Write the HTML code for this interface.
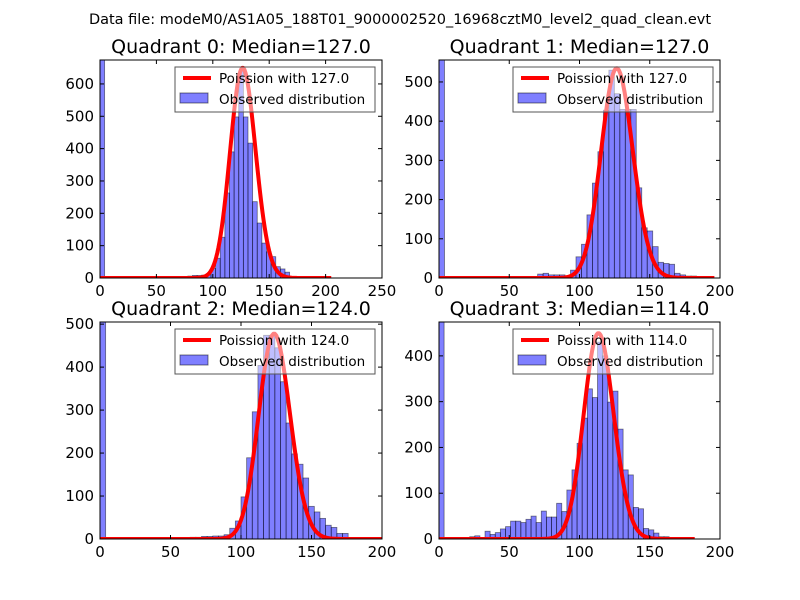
<!DOCTYPE html>
<html><head><meta charset="utf-8"><style>
body{margin:0;background:#fff}
svg{display:block;font-family:"DejaVu Sans","Liberation Sans",sans-serif}
</style></head><body>
<svg id="fig" width="800" height="600" viewBox="0 0 800 600">
<rect width="800" height="600" fill="#fff"/>
<text x="400" y="24" text-anchor="middle" font-size="14.5">Data file: modeM0/AS1A05_188T01_9000002520_16968cztM0_level2_quad_clean.evt</text>
</svg>
<script>
const titles=["Quadrant 0: Median=127.0","Quadrant 1: Median=127.0","Quadrant 2: Median=124.0","Quadrant 3: Median=114.0"];
const lambdas=[127,127,124,114];
const amplitudes=[18360,15110,13340,12040];
const binWidths=[4.1,3.9,4.0,3.64];
const xMaxes=[250,200,200,200];
const yMaxes=[674,556,505,474];
const curveEnds=[205,196,200,182];
const xTickVals=[[0,50,100,150,200,250],[0,50,100,150,200],[0,50,100,150,200],[0,50,100,150,200]];
const yTickVals=[[0,100,200,300,400,500,600],[0,100,200,300,400,500],[0,100,200,300,400,500],[0,100,200,300,400]];
const counts0=[2000,0,0,0,0,0,0,0,0,0,0,0,0,0,0,0,2,3,4,6,8,8,9,10,30,61,126,263,390,498,640,498,417,236,170,108,81,66,35,28,18,5,0,0,0,0,0,0,0,0];
const counts1=[2000,0,0,0,0,0,0,0,0,0,0,0,0,0,0,0,0,0,10,12,8,8,8,3,20,54,86,161,242,322,428,530,470,430,430,430,230,128,120,80,40,37,35,12,8,5,5,4,0,0];
const counts2=[2000,0,0,0,0,0,0,0,0,0,0,0,0,0,0,0,4,4,6,6,7,7,10,25,42,98,189,296,404,474,474,445,366,270,198,174,142,76,63,48,32,27,13,13,2,0,0,0,0,0];
const counts3=[2000,0,0,0,0,0,5,7,0,17,10,14,22,27,39,39,36,43,50,36,61,48,48,78,60,107,151,209,264,328,309,430,400,299,323,240,151,140,69,66,23,20,13,5,5,0,0,0,0,0];
const allCounts=[counts0,counts1,counts2,counts3];
const boxes=[{l:100,t:60,r:382,b:278},{l:439,t:60,r:720,b:278},{l:100,t:322,r:382,b:539},{l:439,t:322,r:720,b:539}];
const NS="http://www.w3.org/2000/svg";
const svg=document.getElementById("fig");
function mk(tag,attrs,parent){const e=document.createElementNS(NS,tag);for(const k in attrs)e.setAttribute(k,attrs[k]);(parent||svg).appendChild(e);return e;}
function lgamma(z){
  if(z<7){let s=0;while(z<7){s-=Math.log(z);z+=1;}return s+lgamma(z);}
  return (z-0.5)*Math.log(z)-z+0.5*Math.log(2*Math.PI)+1/(12*z)-1/(360*z*z*z);}
function pois(k,lam){return Math.exp(k*Math.log(lam)-lam-lgamma(k+1));}
for(let p=0;p<4;p++){
  const B=boxes[p];
  const xs=v=>B.l+(v/xMaxes[p])*(B.r-B.l);
  const ys=v=>B.b-(v/yMaxes[p])*(B.b-B.t);
  const g=mk("g",{});
  
  
  const cid="clip"+p;
  const cp=mk("clipPath",{id:cid},g);mk("rect",{x:B.l,y:B.t,width:B.r-B.l,height:B.b-B.t},cp);
  const plot=mk("g",{"clip-path":"url(#"+cid+")"},g);
  const counts=allCounts[p];
  counts.forEach((c,i)=>{
    if(c<=0)return;
    const x0=xs(i*binWidths[p]),x1=xs((i+1)*binWidths[p]);
    const r=mk("rect",{x:x0,y:ys(c),width:x1-x0,height:ys(0)-ys(c),fill:"rgba(0,0,255,0.5)",stroke:"rgba(0,0,0,0.5)","stroke-width":"0.8"},plot);
    
    
  });
  let d="";
  for(let k=0;k<=curveEnds[p];k++){d+=(k?"L":"M")+xs(k).toFixed(2)+","+ys(amplitudes[p]*pois(k,lambdas[p])).toFixed(2);}
  const ln=mk("path",{d:d,fill:"none",stroke:"#ff0000","stroke-width":"4","stroke-linejoin":"round"},plot);
  
  
  const fr=mk("rect",{x:B.l,y:B.t,width:B.r-B.l,height:B.b-B.t,fill:"none",stroke:"#000","stroke-width":"1"},g);
  
  
  xTickVals[p].forEach(v=>{
    const x=xs(v);
    mk("line",{x1:x,x2:x,y1:B.b,y2:B.b-4,stroke:"#000"},g);
    mk("line",{x1:x,x2:x,y1:B.t,y2:B.t+4,stroke:"#000"},g);
    const t=mk("text",{x:x,y:B.b+18,"text-anchor":"middle","font-size":"15"},g);t.textContent=v;
    
    
  });
  yTickVals[p].forEach(v=>{
    const y=ys(v);
    mk("line",{x1:B.l,x2:B.l+4,y1:y,y2:y,stroke:"#000"},g);
    mk("line",{x1:B.r,x2:B.r-4,y1:y,y2:y,stroke:"#000"},g);
    const t=mk("text",{x:B.l-6,y:y+5,"text-anchor":"end","font-size":"15"},g);t.textContent=v;
    
    
  });
  const tt=mk("text",{x:(B.l+B.r)/2,y:B.t-7,"text-anchor":"middle","font-size":"19"},g);tt.textContent=titles[p];
  
  
  const lg=mk("g",{},g);
  
  
  const lx=B.r-207,ly=B.t+7;
  mk("rect",{x:lx,y:ly,width:200,height:45,fill:"rgba(255,255,255,0.5)",stroke:"#555","stroke-width":"1"},lg);
  mk("line",{x1:lx+8,x2:lx+36,y1:ly+11,y2:ly+11,stroke:"#ff0000","stroke-width":"4"},lg);
  const t1=mk("text",{x:lx+44,y:ly+16,"font-size":"13.5"},lg);t1.textContent="Poission with "+lambdas[p].toFixed(1);
  
  
  mk("rect",{x:lx+5,y:ly+26,width:28,height:10,fill:"rgba(0,0,255,0.5)",stroke:"rgba(0,0,0,0.5)"},lg);
  const t2=mk("text",{x:lx+44,y:ly+37,"font-size":"13.5"},lg);t2.textContent="Observed distribution";
  
  
}
</script>
</body></html>
